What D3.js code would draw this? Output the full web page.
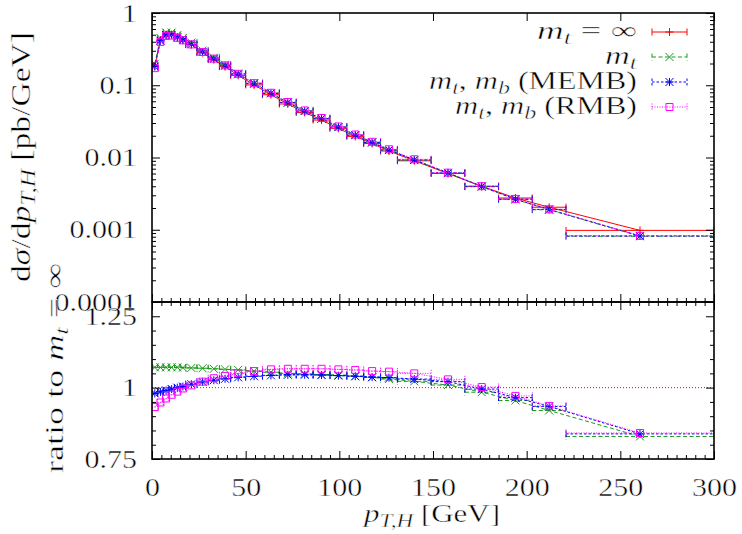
<!DOCTYPE html>
<html>
<head>
<meta charset="utf-8">
<script src="https://cdn.jsdelivr.net/npm/d3@7"></script>
<style>
body { margin: 0; background: #fff; }
svg { display: block; }
svg text { font-weight: normal; stroke: #fff; stroke-width: 0.45px; }
</style>
</head>
<body>
<script>
// bin edges in p_T,H [GeV]
var binEdges = [0, 3, 6, 9, 12, 15, 18, 24, 30, 36, 42, 50, 59, 68, 77, 86, 95, 104, 113, 122, 131, 149, 167, 185, 203, 221, 300];

// d sigma / d pT [pb/GeV]
var xsInf  = [0.185, 0.42, 0.50, 0.50, 0.46, 0.42, 0.365, 0.283, 0.226, 0.181, 0.137, 0.101, 0.074, 0.055, 0.042, 0.033, 0.0253, 0.0196, 0.0156, 0.0123, 0.0090, 0.0060, 0.0040, 0.00275, 0.00205, 0.00098];
var xsMt   = [0.198, 0.450, 0.536, 0.536, 0.493, 0.449, 0.390, 0.302, 0.241, 0.193, 0.1455, 0.1069, 0.0780, 0.0578, 0.0440, 0.0345, 0.0264, 0.0204, 0.01616, 0.01267, 0.00920, 0.00605, 0.00394, 0.00263, 0.00189, 0.000812];
var xsMemb = [0.1813, 0.4137, 0.495, 0.4975, 0.460, 0.4217, 0.3694, 0.2887, 0.2319, 0.1866, 0.1419, 0.1050, 0.0772, 0.0575, 0.0439, 0.0345, 0.0264, 0.0204, 0.01618, 0.01273, 0.00927, 0.00613, 0.00398, 0.00265, 0.00191, 0.000821];
var xsRmb  = [0.1724, 0.398, 0.481, 0.4875, 0.4536, 0.4187, 0.3679, 0.2889, 0.2335, 0.1884, 0.1439, 0.1069, 0.0787, 0.0586, 0.0448, 0.0352, 0.0269, 0.0208, 0.01650, 0.01299, 0.00945, 0.00617, 0.00401, 0.00267, 0.00192, 0.000824];

// ratio to m_t = infinity
var ratioMt   = [1.071, 1.071, 1.071, 1.071, 1.071, 1.070, 1.069, 1.068, 1.066, 1.064, 1.062, 1.058, 1.054, 1.050, 1.048, 1.046, 1.044, 1.040, 1.036, 1.030, 1.022, 1.009, 0.984, 0.955, 0.920, 0.829];
var ratioMemb = [0.980, 0.985, 0.990, 0.995, 1.000, 1.004, 1.012, 1.020, 1.026, 1.031, 1.036, 1.040, 1.043, 1.045, 1.045, 1.044, 1.042, 1.040, 1.037, 1.035, 1.030, 1.021, 0.995, 0.965, 0.934, 0.838];
var ratioRmb  = [0.932, 0.948, 0.962, 0.975, 0.986, 0.997, 1.008, 1.021, 1.033, 1.041, 1.050, 1.058, 1.064, 1.066, 1.066, 1.066, 1.064, 1.062, 1.058, 1.056, 1.050, 1.029, 1.002, 0.971, 0.936, 0.841];

var xTicks = [0, 50, 100, 150, 200, 250, 300];
var yTopTicks = [1e-4, 1e-3, 1e-2, 1e-1, 1];
var yTopLabels = ["0.0001", "0.001", "0.01", "0.1", "1"];
var yBotTicks = [0.75, 1, 1.25];
var yBotLabels = ["0.75", "1", "1.25"];

var W = 742, H = 534;
var FONT = "'Liberation Serif', 'Times New Roman', serif";
var SX = 1.2;   // the reference text is stretched sideways

var x = d3.scaleLinear().domain([0, 300]).range([152, 714]);
var yTop = d3.scaleLog().domain([1e-4, 1]).range([302, 13]);
var yBot = d3.scaleLinear().domain([0.75, 1.30]).range([459, 302]);

var lo = binEdges.slice(0, -1), hi = binEdges.slice(1);
var mid = lo.map((d, i) => (d + hi[i]) / 2);

var series = [
    {color: "#ff0000", dash: null,    marker: "plus",   top: xsInf,  bot: null},
    {color: "#1a9a1a", dash: "4,2.5", marker: "cross",  top: xsMt,   bot: ratioMt},
    {color: "#0000ff", dash: "2.5,2", marker: "star",   top: xsMemb, bot: ratioMemb},
    {color: "#ff00ff", dash: "1,1.5", marker: "square", top: xsRmb,  bot: ratioRmb}
];

var svg = d3.select("body").append("svg")
    .attr("width", W).attr("height", H)
    .style("background", "#fff");

var defs = svg.append("defs");
defs.append("clipPath").attr("id", "clipTop").append("rect")
    .attr("x", x(0)).attr("y", yTop(1)).attr("width", x(300) - x(0)).attr("height", yTop(1e-4) - yTop(1));
defs.append("clipPath").attr("id", "clipBot").append("rect")
    .attr("x", x(0)).attr("y", yBot(1.3)).attr("width", x(300) - x(0)).attr("height", yBot(0.75) - yBot(1.3));

function markerPath(type, s) {
    if (type == "plus") return `M${-s},0H${s}M0,${-s}V${s}`;
    if (type == "cross") return `M${-s},${-s}L${s},${s}M${-s},${s}L${s},${-s}`;
    if (type == "star") return `M${-s},0H${s}M0,${-s}V${s}M${-s},${-s}L${s},${s}M${-s},${s}L${s},${-s}`;
    return `M${-s},${-s}H${s}V${s}H${-s}Z`;
}

function drawSeries(g, yScale, vals, s) {
    var idx = d3.range(vals.length);
    var cap = 3.5;
    g.append("path")
        .attr("d", d3.line().x(i => x(mid[i])).y(i => yScale(vals[i]))(idx))
        .attr("fill", "none").attr("stroke", s.color).attr("stroke-width", 1)
        .attr("stroke-dasharray", s.dash);
    g.append("g").selectAll("path").data(idx).enter().append("path")
        .attr("d", i => {
            var yy = yScale(vals[i]), x0 = x(lo[i]), x1 = x(hi[i]);
            return `M${x0},${yy}H${x1}M${x0},${yy - cap}V${yy + cap}M${x1},${yy - cap}V${yy + cap}`;
        })
        .attr("fill", "none").attr("stroke", s.color).attr("stroke-width", 1)
        .attr("stroke-dasharray", s.dash);
    g.append("g").selectAll("path").data(idx).enter().append("path")
        .attr("transform", i => `translate(${x(mid[i])},${yScale(vals[i])})`)
        .attr("d", markerPath(s.marker, s.marker == "square" ? 3.5 : 4))
        .attr("fill", "none").attr("stroke", s.color).attr("stroke-width", 1);
}

// top panel
var gTop = svg.append("g").attr("clip-path", "url(#clipTop)");
series.forEach(s => drawSeries(gTop, yTop, s.top, s));

// bottom panel
var gBot = svg.append("g").attr("clip-path", "url(#clipBot)");
gBot.append("path")
    .attr("d", `M${x(0)},${yBot(1)}H${x(300)}`)
    .attr("stroke", "#ff0000").attr("stroke-width", 1).attr("stroke-dasharray", "1,2");
series.slice(1).forEach(s => drawSeries(gBot, yBot, s.bot, s));

// axes: ticks point inward on all four sides
var minorLog = [];
[1e-4, 1e-3, 1e-2, 1e-1].forEach(d => { for (var k = 2; k < 10; k++) minorLog.push(d * k); });
var minorX = d3.range(0, 301, 5).filter(d => d % 50 != 0);
var minorBot = d3.range(0.75, 1.301, 0.05).filter(d => Math.abs(d - 0.75) > 1e-6 && Math.abs(d - 1) > 1e-6 && Math.abs(d - 1.25) > 1e-6);

function addAxis(axis, tx, ty) {
    var g = svg.append("g").attr("transform", `translate(${tx},${ty})`).call(axis);
    g.select(".domain").remove();
    g.selectAll(".tick line").attr("stroke", "#000").attr("stroke-width", 1);
    g.attr("font-family", FONT).attr("font-size", 25);
    g.selectAll(".tick text").attr("fill", "#000").each(function() {
        var t = d3.select(this);
        t.attr("x", (+t.attr("x") || 0) / SX).attr("transform", `scale(${SX},1)`);
    });
    return g;
}

// top panel
addAxis(d3.axisLeft(yTop).tickValues(yTopTicks).tickFormat((d, i) => yTopLabels[i]).tickSize(-8).tickSizeOuter(0).tickPadding(15), x(0), 0);
addAxis(d3.axisLeft(yTop).tickValues(minorLog).tickFormat("").tickSize(-4).tickSizeOuter(0), x(0), 0);
addAxis(d3.axisRight(yTop).tickValues(yTopTicks).tickFormat("").tickSize(-8).tickSizeOuter(0), x(300), 0);
addAxis(d3.axisRight(yTop).tickValues(minorLog).tickFormat("").tickSize(-4).tickSizeOuter(0), x(300), 0);
addAxis(d3.axisTop(x).tickValues(xTicks).tickFormat("").tickSize(-8).tickSizeOuter(0), 0, yTop(1));
addAxis(d3.axisBottom(x).tickValues(xTicks).tickFormat("").tickSize(-8).tickSizeOuter(0), 0, yTop(1e-4));
addAxis(d3.axisBottom(x).tickValues(minorX).tickFormat("").tickSize(-4).tickSizeOuter(0), 0, yTop(1e-4));

// bottom panel
addAxis(d3.axisLeft(yBot).tickValues(yBotTicks).tickFormat((d, i) => yBotLabels[i]).tickSize(-8).tickSizeOuter(0).tickPadding(15), x(0), 0);
addAxis(d3.axisLeft(yBot).tickValues(minorBot).tickFormat("").tickSize(-4).tickSizeOuter(0), x(0), 0);
addAxis(d3.axisRight(yBot).tickValues(yBotTicks).tickFormat("").tickSize(-8).tickSizeOuter(0), x(300), 0);
addAxis(d3.axisRight(yBot).tickValues(minorBot).tickFormat("").tickSize(-4).tickSizeOuter(0), x(300), 0);
addAxis(d3.axisTop(x).tickValues(xTicks).tickFormat("").tickSize(-8).tickSizeOuter(0), 0, yBot(1.3));
addAxis(d3.axisTop(x).tickValues(minorX).tickFormat("").tickSize(-4).tickSizeOuter(0), 0, yBot(1.3));
addAxis(d3.axisBottom(x).tickValues(xTicks).tickSize(-8).tickSizeOuter(0).tickPadding(19), 0, yBot(0.75));
addAxis(d3.axisBottom(x).tickValues(minorX).tickFormat("").tickSize(-4).tickSizeOuter(0), 0, yBot(0.75));

// panel borders
[[yTop(1), yTop(1e-4)], [yBot(1.3), yBot(0.75)]].forEach(p => {
    svg.append("rect")
        .attr("x", x(0)).attr("y", p[0]).attr("width", x(300) - x(0)).attr("height", p[1] - p[0])
        .attr("fill", "none").attr("stroke", "#000").attr("stroke-width", 1.6);
});

// math-ish text: parts are [text, kind], kind r = roman, i = italic, s = italic subscript
function mathText(g, parts, size) {
    var t = g.append("text").attr("font-family", FONT).attr("font-size", size).attr("fill", "#000");
    var shifted = false;
    parts.forEach(p => {
        var ts = t.append("tspan").text(p[0]);
        if (p[1] == "s") {
            ts.attr("font-style", "italic").attr("font-size", size * 0.75).attr("dy", size * 0.2);
            shifted = true;
        } else {
            if (shifted) { ts.attr("dy", -size * 0.2); shifted = false; }
            if (p[1] == "i") ts.attr("font-style", "italic");
        }
    });
    return t;
}

// legend
var legendRows = [
    [["m", "i"], ["t", "s"], [" = ∞", "r"]],
    [["m", "i"], ["t", "s"]],
    [["m", "i"], ["t", "s"], [", ", "r"], ["m", "i"], ["b", "s"], [" (MEMB)", "r"]],
    [["m", "i"], ["t", "s"], [", ", "r"], ["m", "i"], ["b", "s"], [" (RMB)", "r"]]
];
var legendWidths = [100, 32, 208, 182];
legendRows.forEach((row, i) => {
    var base = 39 + 25 * i;
    var g = svg.append("g").attr("transform", `translate(637,${base})`);
    mathText(g, row, 25).attr("text-anchor", "end")
        .attr("textLength", legendWidths[i]).attr("lengthAdjust", "spacingAndGlyphs");
    var s = series[i], yy = base - 7, x0 = 652, x1 = 687, cap = 3.5;
    svg.append("path")
        .attr("d", `M${x0},${yy}H${x1}M${x0},${yy - cap}V${yy + cap}M${x1},${yy - cap}V${yy + cap}`)
        .attr("fill", "none").attr("stroke", s.color).attr("stroke-dasharray", s.dash);
    svg.append("path")
        .attr("transform", `translate(${(x0 + x1) / 2},${yy})`)
        .attr("d", markerPath(s.marker, s.marker == "square" ? 3.5 : 4))
        .attr("fill", "none").attr("stroke", s.color);
});

// axis titles
var gy1 = svg.append("g").attr("transform", "translate(30,157) rotate(-90)");
mathText(gy1, [["d", "r"], ["σ", "i"], ["/d", "r"], ["p", "i"], ["T,H", "s"], [" [pb/GeV]", "r"]], 27)
    .attr("text-anchor", "middle").attr("textLength", 250).attr("lengthAdjust", "spacingAndGlyphs");

var gy2 = svg.append("g").attr("transform", "translate(63,368) rotate(-90)");
mathText(gy2, [["ratio to ", "r"], ["m", "i"], ["t", "s"], [" = ∞", "r"]], 26)
    .attr("text-anchor", "middle").attr("textLength", 210).attr("lengthAdjust", "spacingAndGlyphs");

var gx = svg.append("g").attr("transform", "translate(432,522)");
mathText(gx, [["p", "i"], ["T,H", "s"], [" [GeV]", "r"]], 26)
    .attr("text-anchor", "middle").attr("textLength", 136).attr("lengthAdjust", "spacingAndGlyphs");
</script>
</body>
</html>
